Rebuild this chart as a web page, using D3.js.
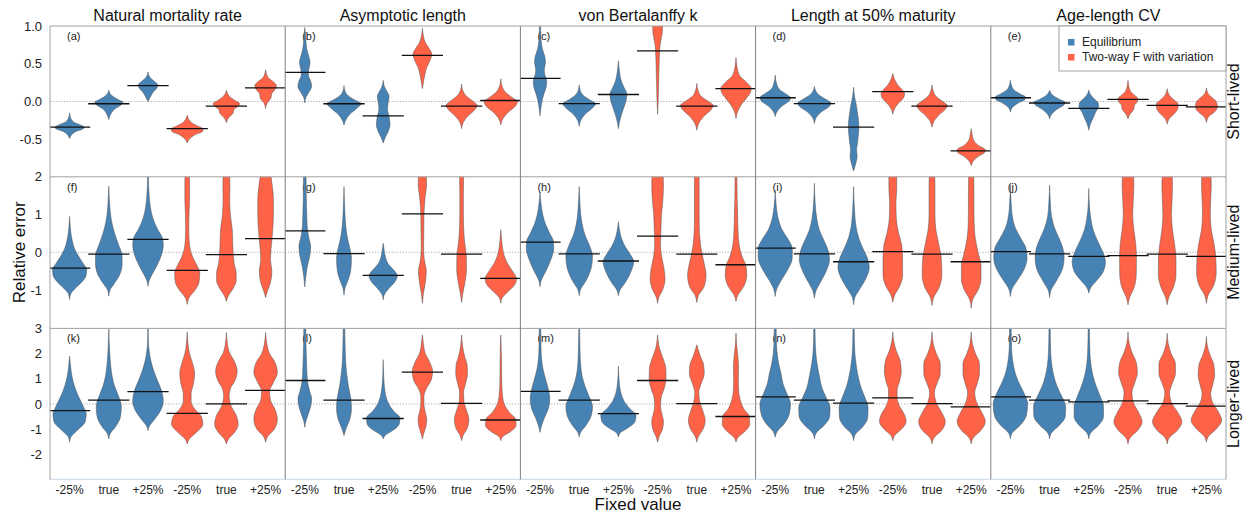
<!DOCTYPE html>
<html>
<head>
<meta charset="utf-8">
<script src="https://cdn.jsdelivr.net/npm/d3@7"></script>
<style>
  body { margin: 0; background: #fff; }
  text { font-family: "Liberation Sans", Arial, sans-serif; fill: #111; }
</style>
</head>
<body>
<svg id="chart" width="1248" height="514"></svg>
<script>
// ---- labels ----
const columnTitles = ["Natural mortality rate", "Asymptotic length", "von Bertalanffy k", "Length at 50% maturity", "Age-length CV"];
const rowLabels = ["Short-lived", "Medium-lived", "Longer-lived"];
const panelLetters = ["a","b","c","d","e","f","g","h","i","j","k","l","m","n","o"];
const fixedValues = ["-25%", "true", "+25%", "-25%", "true", "+25%"];
const scenarioNames = ["Equilibrium", "Two-way F with variation"];
const scenarioOf = [0, 0, 0, 1, 1, 1];
const rowDomains = [[-1, 1], [-2, 2], [-3, 3]];
const rowTicks = [[1.0, 0.5, 0.0, -0.5], [2, 1, 0, -1], [3, 2, 1, 0, -1, -2]];

// ---- medians of relative error, [row][column][fixed value] ----
const mediansShort = [
  [-0.34, -0.03, 0.21, -0.36, -0.06, 0.18],
  [0.385, -0.03, -0.19, 0.61, -0.06, 0.013],
  [0.305, -0.027, 0.093, 0.67, -0.06, 0.17],
  [0.05, -0.027, -0.34, 0.13, -0.06, -0.655],
  [0.05, -0.02, -0.09, 0.027, -0.05, -0.07]
];
const mediansMedium = [
  [-0.42, -0.05, 0.34, -0.48, -0.06, 0.36],
  [0.57, -0.035, -0.61, 1.02, -0.05, -0.69],
  [0.27, -0.04, -0.23, 0.43, -0.05, -0.33],
  [0.11, -0.04, -0.25, 0.02, -0.05, -0.25],
  [0.02, -0.04, -0.11, -0.09, -0.05, -0.11]
];
const mediansLonger = [
  [-0.27, 0.15, 0.49, -0.38, 0.0, 0.54],
  [0.93, 0.15, -0.58, 1.26, 0.02, -0.64],
  [0.5, 0.15, -0.39, 0.93, 0.01, -0.5],
  [0.28, 0.15, 0.03, 0.24, 0.01, -0.12],
  [0.28, 0.15, 0.08, 0.12, 0.01, -0.09]
];

// ---- density profiles: [relative error, density (1 = widest allowed)] ----
const densityShort = [
  [
    [[-0.49,0],[-0.45,0.08],[-0.40,0.3],[-0.36,0.7],[-0.34,0.75],[-0.31,0.55],[-0.27,0.2],[-0.22,0.06],[-0.15,0]],
    [[-0.24,0],[-0.18,0.08],[-0.10,0.3],[-0.04,0.65],[-0.01,0.72],[0.03,0.45],[0.08,0.15],[0.15,0]],
    [[0.0,0],[0.05,0.1],[0.12,0.25],[0.18,0.45],[0.22,0.5],[0.27,0.3],[0.32,0.1],[0.39,0]],
    [[-0.55,0],[-0.50,0.1],[-0.44,0.4],[-0.39,0.8],[-0.36,0.8],[-0.32,0.5],[-0.27,0.18],[-0.22,0.05],[-0.18,0]],
    [[-0.28,0],[-0.22,0.1],[-0.15,0.35],[-0.11,0.38],[-0.06,0.6],[-0.03,0.68],[0.02,0.4],[0.07,0.15],[0.15,0]],
    [[-0.09,0],[-0.02,0.08],[0.05,0.28],[0.1,0.3],[0.15,0.45],[0.21,0.55],[0.26,0.4],[0.32,0.12],[0.42,0]]
  ],
  [
    [[-0.02,0],[0.05,0.05],[0.12,0.2],[0.2,0.35],[0.27,0.3],[0.35,0.18],[0.42,0.2],[0.52,0.27],[0.6,0.2],[0.7,0.1],[0.8,0.06],[0.9,0.03],[0.98,0]],
    [[-0.31,0],[-0.25,0.08],[-0.17,0.3],[-0.08,0.7],[-0.03,0.87],[0.02,0.55],[0.08,0.2],[0.14,0.05],[0.21,0]],
    [[-0.55,0],[-0.48,0.1],[-0.40,0.25],[-0.30,0.35],[-0.20,0.3],[-0.1,0.22],[-0.02,0.25],[0.07,0.3],[0.14,0.18],[0.2,0.06],[0.28,0]],
    [[0.17,0],[0.25,0.05],[0.35,0.12],[0.45,0.22],[0.55,0.4],[0.63,0.48],[0.7,0.35],[0.78,0.15],[0.87,0.05],[0.97,0]],
    [[-0.36,0],[-0.28,0.08],[-0.2,0.3],[-0.1,0.7],[-0.05,0.79],[0.0,0.6],[0.07,0.25],[0.14,0.07],[0.23,0]],
    [[-0.31,0],[-0.24,0.08],[-0.15,0.35],[-0.06,0.75],[0.0,0.85],[0.05,0.6],[0.12,0.25],[0.2,0.07],[0.3,0]]
  ],
  [
    [[-0.19,0],[-0.1,0.04],[0.0,0.1],[0.1,0.2],[0.2,0.32],[0.28,0.34],[0.36,0.24],[0.42,0.22],[0.52,0.28],[0.6,0.24],[0.7,0.12],[0.8,0.06],[0.9,0.04],[1.05,0.02],[1.15,0]],
    [[-0.33,0],[-0.25,0.08],[-0.17,0.3],[-0.08,0.7],[-0.03,0.84],[0.02,0.55],[0.08,0.22],[0.14,0.06],[0.22,0]],
    [[-0.36,0],[-0.28,0.05],[-0.18,0.15],[-0.08,0.28],[0.02,0.4],[0.1,0.43],[0.18,0.3],[0.27,0.15],[0.37,0.07],[0.45,0.03],[0.54,0]],
    [[-0.17,0],[-0.05,0.02],[0.1,0.04],[0.3,0.06],[0.5,0.08],[0.65,0.1],[0.75,0.13],[0.85,0.2],[0.95,0.25],[1.05,0.22],[1.2,0.1]],
    [[-0.38,0],[-0.3,0.08],[-0.2,0.35],[-0.1,0.75],[-0.05,0.83],[0.0,0.6],[0.07,0.22],[0.15,0.06],[0.24,0]],
    [[-0.23,0],[-0.15,0.06],[-0.05,0.25],[0.05,0.55],[0.13,0.75],[0.18,0.77],[0.25,0.55],[0.33,0.22],[0.42,0.08],[0.5,0.03],[0.58,0]]
  ],
  [
    [[-0.2,0],[-0.14,0.08],[-0.06,0.35],[0.01,0.72],[0.05,0.78],[0.1,0.55],[0.16,0.22],[0.24,0.07],[0.35,0]],
    [[-0.29,0],[-0.22,0.08],[-0.14,0.35],[-0.06,0.78],[-0.02,0.85],[0.03,0.58],[0.09,0.22],[0.14,0.07],[0.2,0]],
    [[-0.92,0],[-0.85,0.08],[-0.78,0.15],[-0.72,0.18],[-0.64,0.15],[-0.55,0.2],[-0.45,0.24],[-0.35,0.27],[-0.25,0.25],[-0.15,0.2],[-0.05,0.14],[0.05,0.06],[0.19,0]],
    [[-0.17,0],[-0.1,0.08],[-0.02,0.3],[0.05,0.55],[0.1,0.6],[0.15,0.5],[0.22,0.25],[0.3,0.08],[0.37,0]],
    [[-0.34,0],[-0.27,0.08],[-0.18,0.35],[-0.09,0.72],[-0.05,0.77],[0.0,0.55],[0.07,0.2],[0.14,0.06],[0.22,0]],
    [[-0.85,0],[-0.79,0.1],[-0.73,0.35],[-0.67,0.7],[-0.64,0.72],[-0.58,0.35],[-0.51,0.12],[-0.44,0.05],[-0.36,0]]
  ],
  [
    [[-0.14,0],[-0.08,0.1],[-0.02,0.4],[0.03,0.75],[0.06,0.77],[0.1,0.5],[0.15,0.2],[0.21,0.06],[0.28,0]],
    [[-0.23,0],[-0.17,0.1],[-0.1,0.4],[-0.04,0.75],[-0.01,0.8],[0.03,0.5],[0.08,0.18],[0.15,0]],
    [[-0.38,0],[-0.3,0.08],[-0.22,0.22],[-0.14,0.35],[-0.07,0.5],[-0.02,0.48],[0.03,0.3],[0.08,0.12],[0.15,0]],
    [[-0.23,0],[-0.17,0.1],[-0.1,0.3],[-0.05,0.33],[0.0,0.48],[0.04,0.5],[0.09,0.3],[0.15,0.1],[0.28,0]],
    [[-0.3,0],[-0.23,0.1],[-0.15,0.4],[-0.08,0.55],[-0.03,0.55],[0.02,0.35],[0.08,0.12],[0.17,0]],
    [[-0.28,0],[-0.2,0.12],[-0.13,0.45],[-0.06,0.56],[0.0,0.5],[0.05,0.3],[0.1,0.1],[0.18,0]]
  ]
];

const densityMedium = [
  [
    [[-1.25,0],[-1.1,0.06],[-0.95,0.3],[-0.8,0.6],[-0.6,0.85],[-0.45,0.87],[-0.3,0.7],[-0.1,0.45],[0.1,0.25],[0.3,0.14],[0.5,0.07],[0.7,0.03],[0.95,0]],
    [[-1.16,0],[-1.0,0.06],[-0.85,0.25],[-0.6,0.55],[-0.3,0.68],[-0.1,0.68],[0.2,0.5],[0.5,0.3],[0.8,0.15],[1.1,0.07],[1.4,0.03],[1.75,0]],
    [[-0.9,0],[-0.75,0.06],[-0.55,0.25],[-0.3,0.5],[-0.05,0.7],[0.2,0.78],[0.4,0.72],[0.6,0.5],[0.9,0.25],[1.2,0.12],[1.5,0.06],[1.8,0.03],[2.1,0.02]],
    [[-1.38,0],[-1.2,0.1],[-1.0,0.4],[-0.8,0.6],[-0.55,0.64],[-0.35,0.5],[-0.15,0.3],[0.05,0.17],[0.3,0.1],[0.6,0.08],[1.0,0.09],[1.4,0.12],[1.8,0.12],[2.2,0.1]],
    [[-1.3,0],[-1.15,0.1],[-0.95,0.35],[-0.75,0.5],[-0.55,0.5],[-0.3,0.4],[-0.05,0.35],[0.3,0.32],[0.6,0.3],[1.0,0.2],[1.4,0.17],[1.8,0.18],[2.2,0.15]],
    [[-1.2,0],[-1.05,0.08],[-0.8,0.25],[-0.5,0.32],[-0.2,0.25],[0.1,0.28],[0.5,0.35],[1.0,0.4],[1.4,0.4],[1.8,0.33],[2.1,0.25]]
  ],
  [
    [[-0.92,0],[-0.7,0.04],[-0.4,0.12],[-0.1,0.25],[0.15,0.3],[0.4,0.2],[0.7,0.12],[1.0,0.1],[1.4,0.08],[1.8,0.07],[2.2,0.06]],
    [[-1.13,0],[-0.95,0.05],[-0.75,0.2],[-0.45,0.35],[-0.15,0.38],[0.1,0.3],[0.4,0.17],[0.7,0.09],[1.0,0.05],[1.4,0.02],[1.74,0]],
    [[-1.26,0],[-1.1,0.08],[-0.95,0.3],[-0.78,0.6],[-0.62,0.72],[-0.45,0.5],[-0.3,0.25],[-0.1,0.1],[0.1,0.04],[0.24,0]],
    [[-1.35,0],[-1.1,0.05],[-0.8,0.15],[-0.5,0.2],[-0.2,0.1],[0.1,0.06],[0.5,0.07],[1.0,0.08],[1.4,0.13],[1.8,0.21],[2.2,0.2]],
    [[-1.33,0],[-1.1,0.06],[-0.8,0.17],[-0.45,0.25],[-0.1,0.24],[0.3,0.15],[0.7,0.1],[1.1,0.09],[1.5,0.09],[1.9,0.1],[2.2,0.1]],
    [[-1.35,0],[-1.2,0.08],[-1.05,0.35],[-0.85,0.72],[-0.7,0.8],[-0.5,0.6],[-0.3,0.35],[-0.1,0.18],[0.15,0.08],[0.4,0.03],[0.6,0]]
  ],
  [
    [[-0.91,0],[-0.75,0.06],[-0.5,0.3],[-0.2,0.55],[0.1,0.7],[0.3,0.68],[0.5,0.5],[0.75,0.28],[1.0,0.14],[1.3,0.05],[1.6,0]],
    [[-1.15,0],[-1.0,0.06],[-0.75,0.35],[-0.4,0.62],[-0.1,0.68],[0.15,0.55],[0.45,0.3],[0.75,0.15],[1.05,0.07],[1.4,0.03],[1.74,0]],
    [[-1.15,0],[-1.0,0.08],[-0.8,0.35],[-0.5,0.65],[-0.25,0.78],[-0.05,0.6],[0.15,0.35],[0.35,0.17],[0.55,0.07],[0.81,0]],
    [[-1.35,0],[-1.2,0.06],[-1.0,0.25],[-0.7,0.38],[-0.4,0.32],[-0.1,0.2],[0.2,0.15],[0.6,0.17],[1.0,0.2],[1.4,0.27],[1.8,0.3],[2.2,0.25]],
    [[-1.33,0],[-1.15,0.08],[-0.9,0.38],[-0.6,0.47],[-0.3,0.38],[0.0,0.25],[0.4,0.15],[0.8,0.12],[1.2,0.12],[1.6,0.12],[2.0,0.12],[2.2,0.1]],
    [[-1.3,0],[-1.15,0.08],[-0.9,0.4],[-0.6,0.55],[-0.35,0.5],[-0.1,0.3],[0.2,0.16],[0.6,0.1],[1.0,0.08],[1.4,0.06],[1.8,0.05],[2.2,0.04]]
  ],
  [
    [[-1.17,0],[-1.0,0.06],[-0.75,0.3],[-0.45,0.65],[-0.15,0.87],[0.1,0.87],[0.35,0.65],[0.6,0.35],[0.9,0.15],[1.25,0.05],[1.65,0]],
    [[-1.22,0],[-1.05,0.06],[-0.8,0.3],[-0.5,0.6],[-0.2,0.77],[0.05,0.7],[0.3,0.5],[0.6,0.25],[0.9,0.12],[1.3,0.04],[1.83,0]],
    [[-1.39,0],[-1.2,0.06],[-1.0,0.28],[-0.7,0.62],[-0.4,0.8],[-0.15,0.7],[0.1,0.48],[0.4,0.25],[0.7,0.12],[1.1,0.05],[1.74,0]],
    [[-1.32,0],[-1.15,0.08],[-0.9,0.35],[-0.6,0.5],[-0.2,0.5],[0.2,0.45],[0.5,0.3],[0.9,0.18],[1.3,0.16],[1.7,0.2],[2.0,0.2],[2.2,0.15]],
    [[-1.41,0],[-1.2,0.08],[-0.95,0.35],[-0.6,0.5],[-0.2,0.48],[0.2,0.35],[0.6,0.2],[1.0,0.15],[1.4,0.15],[1.8,0.15],[2.2,0.12]],
    [[-1.48,0],[-1.25,0.08],[-1.0,0.35],[-0.7,0.5],[-0.35,0.5],[0.0,0.35],[0.4,0.2],[0.8,0.15],[1.2,0.14],[1.6,0.14],[2.0,0.13],[2.2,0.1]]
  ],
  [
    [[-1.17,0],[-1.0,0.06],[-0.75,0.35],[-0.45,0.7],[-0.15,0.85],[0.1,0.8],[0.35,0.55],[0.65,0.25],[0.95,0.1],[1.3,0.04],[1.78,0]],
    [[-1.2,0],[-1.02,0.06],[-0.78,0.32],[-0.45,0.65],[-0.15,0.74],[0.1,0.68],[0.35,0.5],[0.65,0.25],[0.95,0.1],[1.3,0.04],[1.78,0]],
    [[-1.08,0],[-0.95,0.08],[-0.75,0.4],[-0.5,0.75],[-0.25,0.85],[0.0,0.72],[0.3,0.45],[0.6,0.22],[0.9,0.1],[1.25,0.03],[1.69,0]],
    [[-1.39,0],[-1.2,0.08],[-0.95,0.3],[-0.6,0.42],[-0.2,0.43],[0.2,0.4],[0.6,0.3],[1.0,0.24],[1.4,0.27],[1.8,0.3],[2.2,0.25]],
    [[-1.39,0],[-1.2,0.08],[-0.95,0.3],[-0.6,0.45],[-0.2,0.45],[0.2,0.38],[0.6,0.27],[1.0,0.22],[1.4,0.25],[1.8,0.27],[2.2,0.22]],
    [[-1.35,0],[-1.15,0.08],[-0.9,0.35],[-0.55,0.5],[-0.15,0.48],[0.25,0.38],[0.6,0.25],[1.0,0.2],[1.4,0.22],[1.8,0.25],[2.2,0.2]]
  ]
];

const densityLonger = [
  [
    [[-1.52,0],[-1.3,0.08],[-1.05,0.4],[-0.7,0.8],[-0.4,0.85],[-0.1,0.7],[0.3,0.45],[0.7,0.25],[1.1,0.12],[1.5,0.05],[1.9,0]],
    [[-1.39,0],[-1.2,0.06],[-0.9,0.35],[-0.5,0.6],[-0.1,0.64],[0.3,0.5],[0.7,0.3],[1.1,0.17],[1.5,0.1],[2.0,0.05],[2.5,0.02],[3.0,0]],
    [[-1.06,0],[-0.9,0.06],[-0.6,0.35],[-0.25,0.65],[0.1,0.78],[0.5,0.7],[0.9,0.5],[1.3,0.3],[1.7,0.15],[2.1,0.06],[2.5,0.02],[3.1,0.01]],
    [[-1.59,0],[-1.4,0.1],[-1.15,0.45],[-0.8,0.8],[-0.5,0.72],[-0.2,0.38],[0.1,0.2],[0.4,0.2],[0.8,0.32],[1.2,0.38],[1.6,0.28],[2.0,0.12],[2.4,0.04],[2.87,0]],
    [[-1.59,0],[-1.4,0.1],[-1.15,0.4],[-0.8,0.6],[-0.45,0.5],[-0.1,0.25],[0.3,0.14],[0.6,0.2],[0.95,0.45],[1.3,0.55],[1.7,0.4],[2.05,0.15],[2.4,0.05],[2.84,0]],
    [[-1.52,0],[-1.3,0.1],[-1.0,0.45],[-0.6,0.6],[-0.25,0.5],[0.15,0.25],[0.5,0.2],[0.85,0.4],[1.25,0.6],[1.65,0.48],[2.0,0.2],[2.4,0.06],[2.84,0]]
  ],
  [
    [[-0.93,0],[-0.7,0.05],[-0.4,0.18],[-0.1,0.3],[0.2,0.35],[0.5,0.25],[0.9,0.14],[1.4,0.1],[1.9,0.08],[2.4,0.06],[3.1,0.05]],
    [[-1.26,0],[-1.0,0.1],[-0.6,0.3],[-0.2,0.38],[0.2,0.35],[0.6,0.25],[1.0,0.17],[1.5,0.1],[2.0,0.07],[2.5,0.05],[3.1,0.04]],
    [[-1.39,0],[-1.25,0.1],[-1.05,0.5],[-0.8,0.82],[-0.55,0.85],[-0.3,0.55],[0.0,0.28],[0.3,0.14],[0.7,0.06],[1.2,0.02],[1.76,0]],
    [[-1.39,0],[-1.2,0.06],[-0.9,0.18],[-0.6,0.22],[-0.3,0.14],[0.0,0.08],[0.3,0.08],[0.6,0.2],[0.95,0.45],[1.3,0.52],[1.65,0.38],[2.0,0.15],[2.4,0.05],[2.74,0]],
    [[-1.46,0],[-1.25,0.08],[-0.95,0.3],[-0.6,0.37],[-0.25,0.25],[0.1,0.12],[0.45,0.1],[0.8,0.2],[1.2,0.3],[1.55,0.28],[1.9,0.15],[2.3,0.05],[2.74,0]],
    [[-1.46,0],[-1.3,0.1],[-1.1,0.5],[-0.85,0.78],[-0.6,0.75],[-0.35,0.45],[-0.05,0.2],[0.3,0.09],[0.8,0.05],[1.4,0.04],[2.0,0.03],[2.74,0]]
  ],
  [
    [[-1.13,0],[-0.95,0.05],[-0.6,0.2],[-0.2,0.42],[0.2,0.5],[0.6,0.42],[1.0,0.28],[1.4,0.15],[1.8,0.08],[2.3,0.05],[3.1,0.04]],
    [[-1.32,0],[-1.15,0.06],[-0.85,0.35],[-0.45,0.62],[-0.1,0.68],[0.3,0.5],[0.7,0.3],[1.1,0.15],[1.6,0.07],[2.2,0.04],[3.1,0.02]],
    [[-1.32,0],[-1.15,0.1],[-0.95,0.5],[-0.7,0.85],[-0.45,0.9],[-0.2,0.6],[0.1,0.3],[0.4,0.14],[0.8,0.05],[1.5,0]],
    [[-1.52,0],[-1.3,0.08],[-1.0,0.25],[-0.7,0.3],[-0.4,0.22],[-0.1,0.15],[0.25,0.18],[0.6,0.33],[1.0,0.43],[1.4,0.42],[1.8,0.28],[2.2,0.1],[2.74,0]],
    [[-1.52,0],[-1.3,0.08],[-1.0,0.32],[-0.65,0.43],[-0.3,0.32],[0.1,0.15],[0.45,0.1],[0.8,0.22],[1.2,0.38],[1.55,0.35],[1.9,0.18],[2.35,0]],
    [[-1.52,0],[-1.35,0.08],[-1.1,0.45],[-0.8,0.7],[-0.5,0.68],[-0.2,0.4],[0.2,0.2],[0.6,0.13],[1.0,0.12],[1.5,0.13],[2.0,0.08],[2.4,0.03],[2.81,0]]
  ],
  [
    [[-1.32,0],[-1.1,0.1],[-0.8,0.45],[-0.4,0.72],[0.0,0.78],[0.4,0.6],[0.8,0.4],[1.2,0.3],[1.6,0.18],[2.0,0.1],[2.5,0.06],[3.1,0.05]],
    [[-1.39,0],[-1.15,0.1],[-0.85,0.5],[-0.5,0.78],[-0.15,0.8],[0.25,0.6],[0.65,0.38],[1.0,0.28],[1.4,0.18],[1.8,0.1],[2.3,0.05],[3.1,0.03]],
    [[-1.46,0],[-1.2,0.1],[-0.9,0.48],[-0.55,0.72],[-0.15,0.74],[0.25,0.58],[0.65,0.38],[1.0,0.26],[1.4,0.16],[1.8,0.09],[2.3,0.05],[3.1,0.03]],
    [[-1.46,0],[-1.25,0.1],[-1.0,0.45],[-0.7,0.68],[-0.4,0.58],[-0.1,0.35],[0.25,0.22],[0.55,0.22],[0.9,0.35],[1.3,0.43],[1.7,0.38],[2.1,0.18],[2.5,0.05],[2.87,0]],
    [[-1.59,0],[-1.35,0.1],[-1.05,0.5],[-0.7,0.68],[-0.35,0.5],[0.05,0.22],[0.45,0.12],[0.8,0.25],[1.2,0.42],[1.6,0.42],[2.0,0.22],[2.4,0.06],[2.87,0]],
    [[-1.59,0],[-1.35,0.1],[-1.05,0.5],[-0.7,0.72],[-0.35,0.55],[0.05,0.28],[0.45,0.18],[0.8,0.3],[1.2,0.42],[1.6,0.42],[2.0,0.22],[2.4,0.06],[2.87,0]]
  ],
  [
    [[-1.39,0],[-1.15,0.1],[-0.85,0.5],[-0.45,0.82],[0.0,0.88],[0.45,0.68],[0.9,0.4],[1.3,0.22],[1.7,0.12],[2.2,0.06],[3.1,0.04]],
    [[-1.39,0],[-1.15,0.1],[-0.85,0.5],[-0.5,0.8],[-0.1,0.82],[0.3,0.62],[0.7,0.38],[1.1,0.22],[1.5,0.12],[2.0,0.06],[3.1,0.03]],
    [[-1.39,0],[-1.15,0.1],[-0.85,0.5],[-0.5,0.75],[-0.1,0.75],[0.3,0.58],[0.7,0.38],[1.1,0.22],[1.5,0.12],[2.0,0.06],[3.1,0.03]],
    [[-1.59,0],[-1.35,0.1],[-1.05,0.5],[-0.7,0.72],[-0.35,0.55],[0.05,0.28],[0.45,0.2],[0.85,0.35],[1.25,0.48],[1.65,0.42],[2.05,0.2],[2.45,0.05],[2.87,0]],
    [[-1.59,0],[-1.35,0.1],[-1.05,0.52],[-0.7,0.75],[-0.35,0.55],[0.05,0.22],[0.45,0.12],[0.8,0.25],[1.2,0.42],[1.6,0.42],[2.0,0.2],[2.4,0.05],[2.81,0]],
    [[-1.52,0],[-1.3,0.1],[-1.0,0.5],[-0.65,0.78],[-0.3,0.6],[0.05,0.32],[0.4,0.22],[0.75,0.32],[1.15,0.42],[1.55,0.38],[1.95,0.18],[2.3,0.05],[2.68,0]]
  ]
];

const medianRows = [mediansShort, mediansMedium, mediansLonger];
const densityRows = [densityShort, densityMedium, densityLonger];

// ---- layout ----
const svg = d3.select("#chart");
const plotLeft = 50, plotRight = 1226;
const rowTops = [26, 176.8, 328.4];
const rowH = 151;
const panelW = (plotRight - plotLeft) / 5;
const colors = ["#4682b4", "#ff6347"];

const defs = svg.append("defs");

for (let r = 0; r < 3; r++) {
  const top = rowTops[r];
  const y = d3.scaleLinear().domain(rowDomains[r]).range([top + rowH, top]);

  for (let c = 0; c < 5; c++) {
    const x0 = plotLeft + c * panelW;
    const xBand = d3.scaleBand().domain(d3.range(6)).range([x0, x0 + panelW]);
    const bw = xBand.bandwidth();
    const halfW = d3.scaleLinear().domain([0, 1]).range([0, bw / 2]);

    const clipId = `clip-${r}-${c}`;
    defs.append("clipPath").attr("id", clipId)
      .append("rect").attr("x", x0).attr("y", top).attr("width", panelW).attr("height", rowH);

    const g = svg.append("g").attr("clip-path", `url(#${clipId})`);

    // zero reference line
    g.append("line")
      .attr("x1", x0).attr("x2", x0 + panelW)
      .attr("y1", y(0)).attr("y2", y(0))
      .attr("stroke", "#9a9a9a").attr("stroke-width", 0.8)
      .attr("stroke-dasharray", "1.2,1.6");

    // panel letter
    g.append("text")
      .attr("x", x0 + 17).attr("y", top + 14)
      .attr("font-size", 11).style("fill", "#222")
      .text(`(${panelLetters[r * 5 + c]})`);

    // violins
    const profiles = densityRows[r][c];
    profiles.forEach((prof, i) => {
      const cx = xBand(i) + bw / 2;
      const area = d3.area()
        .y(d => y(d[0]))
        .x0(d => cx - halfW(d[1]))
        .x1(d => cx + halfW(d[1]))
        .curve(d3.curveMonotoneY);
      g.append("path")
        .attr("d", area(prof))
        .attr("fill", colors[scenarioOf[i]])
        .attr("stroke", "#4d4d4d")
        .attr("stroke-width", 0.6)
        .attr("stroke-opacity", 0.8);
    });

    // medians
    const meds = medianRows[r][c];
    meds.forEach((m, i) => {
      g.append("line")
        .attr("x1", xBand(i) - 1).attr("x2", xBand(i) + bw + 1)
        .attr("y1", y(m)).attr("y2", y(m))
        .attr("stroke", "#111").attr("stroke-width", 1.3);
    });

    // y axis on the first column
    if (c === 0) {
      const ax = svg.append("g")
        .attr("transform", `translate(${plotLeft},0)`)
        .call(d3.axisLeft(y).tickValues(rowTicks[r]).tickSize(0).tickPadding(8)
          .tickFormat(d => r === 0 ? d.toFixed(1) : String(d)));
      ax.select(".domain").remove();
      ax.selectAll("text").attr("font-size", 13)
        .attr("font-family", "'Liberation Sans', Arial, sans-serif").style("fill", "#222");
    }

    // x axis on the bottom row
    if (r === 2) {
      const ax = svg.append("g")
        .attr("transform", `translate(0,${top + rowH})`)
        .call(d3.axisBottom(xBand).tickSize(0).tickPadding(6).tickFormat(i => fixedValues[i]));
      ax.select(".domain").remove();
      ax.selectAll("text").attr("font-size", 12)
        .attr("font-family", "'Liberation Sans', Arial, sans-serif").style("fill", "#222");
    }
  }

  // row label on the right
  svg.append("text")
    .attr("transform", `translate(1239,${top + rowH / 2}) rotate(-90)`)
    .attr("text-anchor", "middle").attr("font-size", 16)
    .text(rowLabels[r]);
}

// frame: rows and column separators
const bottom = rowTops[2] + rowH;
rowTops.forEach(t => {
  svg.append("line").attr("x1", plotLeft).attr("x2", plotRight).attr("y1", t).attr("y2", t)
    .attr("stroke", "#a0a0a0").attr("stroke-width", 1);
});
svg.append("line").attr("x1", plotLeft).attr("x2", plotRight).attr("y1", bottom).attr("y2", bottom)
  .attr("stroke", "#d3e0ec").attr("stroke-width", 1.2);
for (let c = 0; c <= 5; c++) {
  const x = plotLeft + c * panelW;
  svg.append("line").attr("x1", x).attr("x2", x).attr("y1", rowTops[0]).attr("y2", bottom)
    .attr("stroke", (c === 0 || c === 5) ? "#a0a0a0" : "#808080").attr("stroke-width", 1);
}

// column titles
columnTitles.forEach((t, c) => {
  svg.append("text")
    .attr("x", plotLeft + (c + 0.5) * panelW).attr("y", 21)
    .attr("text-anchor", "middle").attr("font-size", 16)
    .text(t);
});

// axis titles
svg.append("text")
  .attr("transform", `translate(25,${rowTops[1] + rowH / 2}) rotate(-90)`)
  .attr("text-anchor", "middle").attr("font-size", 17)
  .text("Relative error");
svg.append("text")
  .attr("x", (plotLeft + plotRight) / 2).attr("y", 510)
  .attr("text-anchor", "middle").attr("font-size", 17)
  .text("Fixed value");

// legend
const lg = svg.append("g").attr("transform", "translate(1059,26)");
lg.append("rect").attr("width", 167).attr("height", 45)
  .attr("fill", "#fff").attr("stroke", "#a0a0a0").attr("stroke-width", 1);
scenarioNames.forEach((name, i) => {
  lg.append("rect").attr("x", 9).attr("y", 13 + i * 15).attr("width", 6.5).attr("height", 6.5)
    .attr("fill", colors[i]);
  lg.append("text").attr("x", 23).attr("y", 20 + i * 15)
    .attr("font-size", 12).style("fill", "#222").text(name);
});
</script>
</body>
</html>
